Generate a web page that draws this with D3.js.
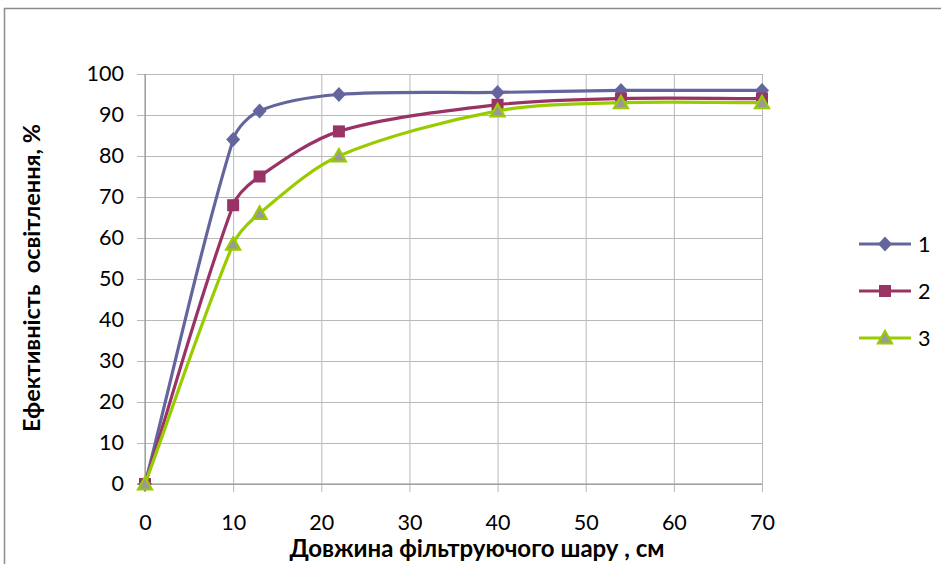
<!DOCTYPE html>
<html lang="uk">
<head>
<meta charset="UTF-8">
<title>Ефективність освітлення</title>
<script src="https://cdn.jsdelivr.net/npm/d3@7"></script>
<style>
  body { margin: 0; background: #fff; }
  text { font-family: Lato, "Open Sans", sans-serif; fill: #000; }
</style>
</head>
<body>
<script>
const w = 941;
const h = 564;

// data
const lengths = [0, 10, 13, 22, 40, 54, 70];
const series1 = [0, 84, 91, 95, 95.5, 96, 96];
const series2 = [0, 68, 75, 86, 92.5, 94, 94];
const series3 = [0, 58.5, 66, 80, 91, 93, 93];
const seriesNames = ["1", "2", "3"];
const xTicks = [0, 10, 20, 30, 40, 50, 60, 70];
const yTicks = [0, 10, 20, 30, 40, 50, 60, 70, 80, 90, 100];

const colors = ["#65659e", "#993366", "#99cc00"];
const plotLeft = 145, plotRight = 762, plotTop = 74, plotBottom = 484;

const svg = d3.select("body").append("svg")
  .attr("width", w)
  .attr("height", h);

// outer frame
svg.append("rect")
  .attr("x", 4.5).attr("y", 8.5)
  .attr("width", w + 10).attr("height", h + 10)
  .attr("fill", "none")
  .attr("stroke", "#8c8c8c")
  .attr("stroke-width", 1.5);

const x = d3.scaleLinear().domain([0, 70]).range([plotLeft, plotRight]);
const y = d3.scaleLinear().domain([0, 100]).range([plotBottom, plotTop]);

// horizontal grid + y ticks
svg.append("g")
  .attr("transform", `translate(${plotLeft},0)`)
  .call(d3.axisLeft(y).tickValues(yTicks).tickSize(-(plotRight - plotLeft)).tickPadding(21))
  .call(g => g.select(".domain").remove())
  .call(g => g.selectAll(".tick line").attr("stroke", "#b8b8b8").attr("x1", -8))
  .call(g => g.selectAll(".tick text").style("font-size", "21.5px"));

// vertical grid + x ticks
svg.append("g")
  .attr("transform", `translate(0,${plotBottom})`)
  .call(d3.axisBottom(x).tickValues(xTicks).tickSize(-(plotBottom - plotTop)).tickPadding(31))
  .call(g => g.select(".domain").remove())
  .call(g => g.selectAll(".tick line").attr("stroke", "#b8b8b8").attr("y1", 8))
  .call(g => g.selectAll(".tick text").style("font-size", "21.5px"));

// axis lines
svg.append("line")
  .attr("x1", plotLeft).attr("x2", plotLeft).attr("y1", plotTop).attr("y2", plotBottom + 8)
  .attr("stroke", "#8c8c8c");
svg.append("line")
  .attr("x1", plotLeft - 8).attr("x2", plotRight).attr("y1", plotBottom).attr("y2", plotBottom)
  .attr("stroke", "#8c8c8c");

// smoothing a bit like the spreadsheet one: tangent along neighbours,
// handle length tied to each segment so short segments don't overshoot
function SmoothCurve(context) { this._context = context; }
SmoothCurve.prototype = {
  areaStart() {}, areaEnd() {},
  lineStart() { this._pts = []; },
  point(px, py) { this._pts.push([+px, +py]); },
  lineEnd() {
    const p = this._pts, n = p.length, ctx = this._context;
    if (!n) return;
    const unit = (a, b) => {
      const dx = b[0] - a[0], dy = b[1] - a[1], l = Math.hypot(dx, dy) || 1;
      return [dx / l, dy / l];
    };
    const tan = p.map((q, i) => unit(p[Math.max(i - 1, 0)], p[Math.min(i + 1, n - 1)]));
    ctx.moveTo(p[0][0], p[0][1]);
    for (let i = 0; i < n - 1; i++) {
      const a = p[i], b = p[i + 1];
      const d = Math.hypot(b[0] - a[0], b[1] - a[1]) * 0.3;
      ctx.bezierCurveTo(
        a[0] + tan[i][0] * d, a[1] + tan[i][1] * d,
        b[0] - tan[i + 1][0] * d, b[1] - tan[i + 1][1] * d,
        b[0], b[1]);
    }
  }
};
const curveSmooth = ctx => new SmoothCurve(ctx);

const line = d3.line()
  .x(d => x(d[0]))
  .y(d => y(d[1]))
  .curve(curveSmooth);

const allSeries = [series1, series2, series3];

function marker(g, i) {
  if (i === 0) {
    g.append("path").attr("d", "M0,-7.5L7,0L0,7.5L-7,0Z")
      .attr("fill", colors[0]);
  } else if (i === 1) {
    g.append("rect").attr("x", -6).attr("y", -6).attr("width", 12).attr("height", 12)
      .attr("fill", colors[1]);
  } else {
    g.append("path").attr("d", "M0,-7L7,5.5L-7,5.5Z")
      .attr("fill", "#999999")
      .attr("stroke", colors[2])
      .attr("stroke-width", 2.2);
  }
}

allSeries.forEach((vals, i) => {
  const pts = lengths.map((l, j) => [l, vals[j]]);
  svg.append("path")
    .datum(pts)
    .attr("fill", "none")
    .attr("stroke", colors[i])
    .attr("stroke-width", 3.2)
    .attr("d", line);
  pts.forEach(p => {
    const g = svg.append("g").attr("transform", `translate(${x(p[0])},${y(p[1])})`);
    marker(g, i);
  });
});

// legend
const legendY = [244, 291, 338];
seriesNames.forEach((name, i) => {
  svg.append("line")
    .attr("x1", 859).attr("x2", 911)
    .attr("y1", legendY[i]).attr("y2", legendY[i])
    .attr("stroke", colors[i]).attr("stroke-width", 3.2);
  const g = svg.append("g").attr("transform", `translate(885,${legendY[i]})`);
  marker(g, i);
  svg.append("text")
    .attr("x", 918).attr("y", legendY[i])
    .attr("dy", "0.36em")
    .style("font-size", "21.5px")
    .text(name);
});

// axis titles
svg.append("text")
  .attr("x", 477).attr("y", 557)
  .attr("text-anchor", "middle")
  .style("font-size", "24px")
  .style("font-weight", "bold")
  .text("Довжина фільтруючого шару , см");

svg.append("text")
  .attr("transform", "translate(40,278) rotate(-90)")
  .attr("text-anchor", "middle")
  .style("font-size", "23.5px")
  .style("font-weight", "bold")
  .style("white-space", "pre")
  .text("Ефективність  освітлення, %");
</script>
</body>
</html>
